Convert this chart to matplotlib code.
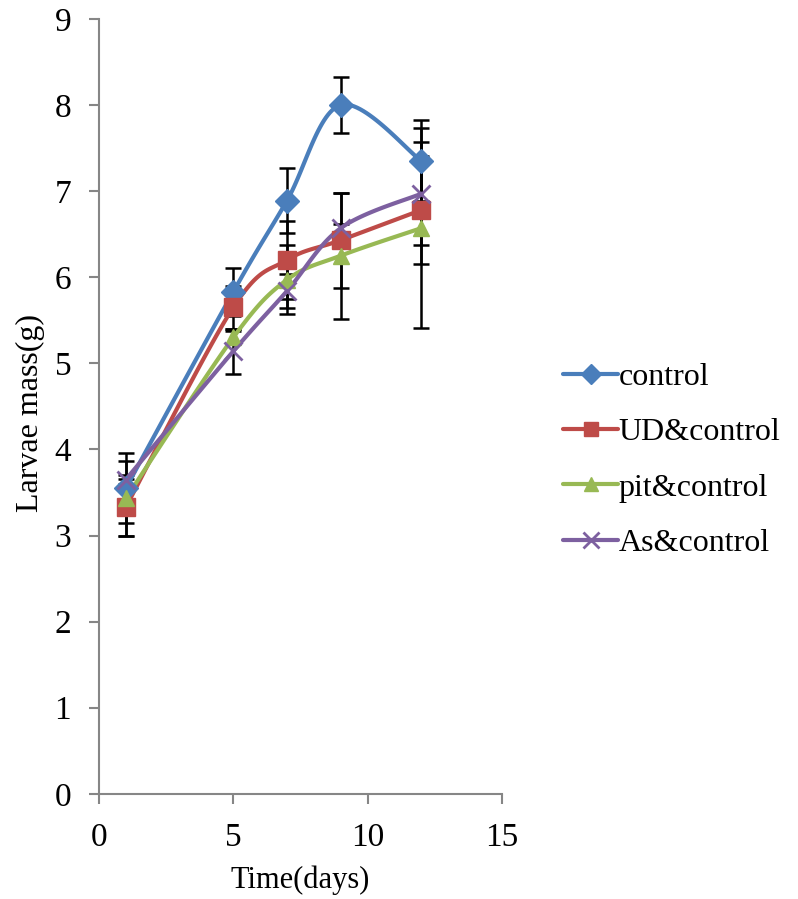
import numpy as np
import matplotlib
matplotlib.use("Agg")
import matplotlib.pyplot as plt

plt.rcParams['font.family'] = ['Liberation Serif', 'DejaVu Serif']

# sampling days and mean larvae mass (g) with error bars
days = [1, 5, 7, 9, 12]

control = [3.55, 5.83, 6.89, 8.00, 7.35]
control_err = [0.41, 0.28, 0.38, 0.33, 0.47]

ud_control = [3.33, 5.65, 6.20, 6.43, 6.78]
ud_err = [0.33, 0.25, 0.45, 0.55, 0.63]

pit_control = [3.43, 5.30, 5.97, 6.25, 6.57]
pit_err = [0.43, 0.08, 0.40, 0.73, 1.16]

as_control = [3.65, 5.14, 5.84, 6.57, 6.97]
as_err = [0.05, 0.26, 0.20, 0.05, 0.60]

labels = ["control", "UD&control", "pit&control", "As&control"]
colors = ["#4a7ebb", "#be4b48", "#98b954", "#7d60a0"]
markers = ["D", "s", "^", "x"]


def smooth(x, y, n=30):
    # cardinal spline through the points, same as spreadsheet "smoothed line"
    x = np.asarray(x, float)
    y = np.asarray(y, float)
    px = np.concatenate([[x[0]], x, [x[-1]]])
    py = np.concatenate([[y[0]], y, [y[-1]]])
    xs, ys = [], []
    t = np.linspace(0, 1, n)
    for i in range(1, len(px) - 2):
        p0 = np.array([px[i], py[i]])
        p3 = np.array([px[i + 1], py[i + 1]])
        p1 = p0 + (np.array([px[i + 1], py[i + 1]]) - np.array([px[i - 1], py[i - 1]])) / 6
        p2 = p3 - (np.array([px[i + 2], py[i + 2]]) - np.array([px[i], py[i]])) / 6
        b = ((1 - t) ** 3)[:, None] * p0 + (3 * (1 - t) ** 2 * t)[:, None] * p1 \
            + (3 * (1 - t) * t ** 2)[:, None] * p2 + (t ** 3)[:, None] * p3
        xs.extend(b[:, 0])
        ys.extend(b[:, 1])
    return np.array(xs), np.array(ys)


fig = plt.figure(figsize=(7.98, 8.99), dpi=100)
ax = fig.add_axes([0.124, 0.117, 0.505, 0.862])

series = [(control, control_err), (ud_control, ud_err),
          (pit_control, pit_err), (as_control, as_err)]

for (vals, errs), lab, col, mk in zip(series, labels, colors, markers):
    ax.errorbar(days, vals, yerr=errs, fmt='none', ecolor='black',
                elinewidth=1.8, capsize=6, capthick=1.8, zorder=2)

handles = []
for (vals, errs), lab, col, mk in zip(series, labels, colors, markers):
    sx, sy = smooth(days, vals)
    ax.plot(sx, sy, color=col, lw=3, zorder=3, solid_capstyle='round')
    if mk == "x":
        ax.plot(days, vals, linestyle='none', marker=mk, ms=13, mew=2,
                color=col, zorder=4)
    else:
        ax.plot(days, vals, linestyle='none', marker=mk, ms=12 if mk != "s" else 13,
                color=col, mec=col, zorder=4)
    h, = ax.plot([], [], color=col, lw=3, marker=mk, ms=10 if mk != "x" else 12,
                 mew=2 if mk == "x" else 1, mec=col, solid_capstyle='round')
    handles.append(h)

ax.set_xlim(0, 15)
ax.set_ylim(0, 9)
ax.set_xticks([0, 5, 10, 15])
ax.set_yticks(range(10))

for s in ['top', 'right']:
    ax.spines[s].set_visible(False)
for s in ['left', 'bottom']:
    ax.spines[s].set_color('#868686')
    ax.spines[s].set_linewidth(1.5)
ax.tick_params(axis='both', colors='#868686', width=1.5, length=7,
               labelsize=24, labelcolor='black')
ax.tick_params(axis='x', pad=14)
ax.tick_params(axis='y', pad=13)

ax.set_xlabel("Time(days)", fontsize=22, labelpad=9)
ax.set_ylabel("Larvae mass(g)", fontsize=23)
ax.yaxis.set_label_coords(-0.135, 0.492)

fig.legend(handles, labels, loc='center left', bbox_to_anchor=(0.705, 0.488),
           frameon=False, fontsize=23, handlelength=1.75, handletextpad=0.0,
           labelspacing=0.81, borderaxespad=0, borderpad=0)

fig.savefig("out.png", dpi=100)
